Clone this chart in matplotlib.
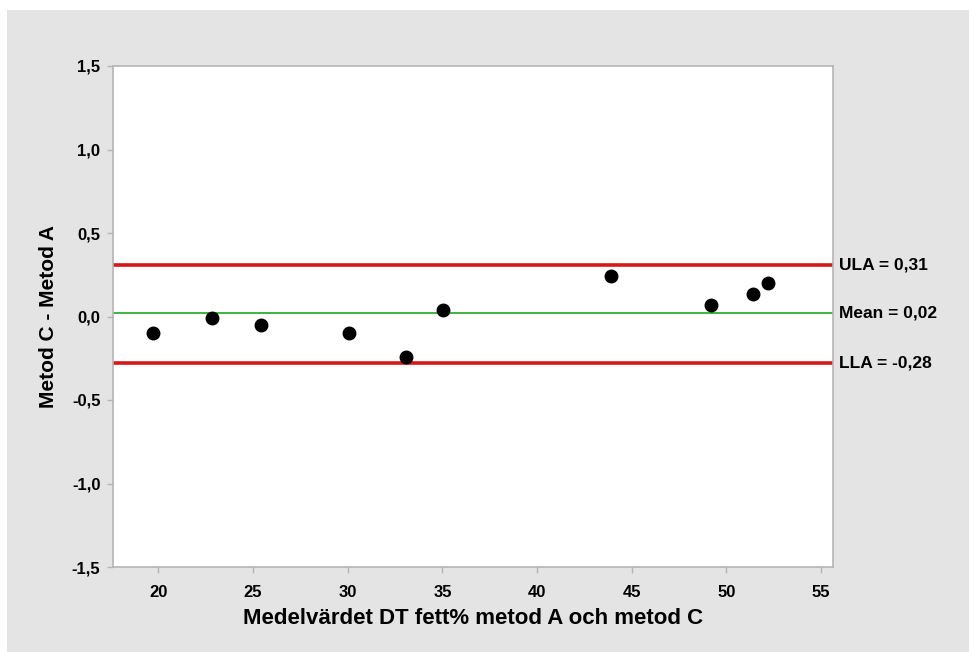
import matplotlib.pyplot as plt
import numpy as np
from matplotlib.patches import Rectangle
from matplotlib.ticker import FuncFormatter

# Bland-Altman data: mean of the two methods vs. difference (C - A)
medel = [19.70, 22.84, 25.42, 30.08, 33.09, 35.01, 43.92, 49.18, 51.43, 52.22]
diff = [-0.10, -0.006, -0.05, -0.10, -0.245, 0.038, 0.245, 0.07, 0.133, 0.20]

ula = 0.31
mean_diff = 0.02
lla = -0.28

x_ticks = [20, 25, 30, 35, 40, 45, 50, 55]
y_ticks = [-1.5, -1.0, -0.5, 0.0, 0.5, 1.0, 1.5]

plt.rcParams["font.family"] = ["Liberation Sans", "DejaVu Sans"]


def comma(v, pos=None):
    return f"{v:.1f}".replace(".", ",")


fig = plt.figure(figsize=(9.7, 6.52), dpi=100, facecolor="white")
# gray panel behind the plot (drawn below the axes)
fig.add_artist(Rectangle((7 / 970, 0), 1, 1 - 10 / 652, transform=fig.transFigure,
                         facecolor="#e4e4e4", edgecolor="none", zorder=-10))

ax = fig.add_axes([113 / 970, 1 - 567 / 652, 720 / 970, 501 / 652])
ax.set_facecolor("white")

ax.axhline(ula, color="#d81818", lw=2.6, zorder=2)
ax.axhline(mean_diff, color="#3cb43c", lw=1.4, zorder=2)
ax.axhline(lla, color="#d81818", lw=2.6, zorder=2)
ax.plot(medel, diff, "o", color="black", markersize=9, zorder=3)

ax.set_xlim(17.6, 55.63)
ax.set_ylim(-1.5, 1.5)
ax.set_xticks(x_ticks)
ax.set_yticks(y_ticks)
ax.yaxis.set_major_formatter(FuncFormatter(comma))

for s in ax.spines.values():
    s.set_color("#b4b4b4")
    s.set_linewidth(1.2)
ax.tick_params(direction="out", length=4, width=1, color="#b4b4b4",
               labelsize=12, pad=5)
ax.tick_params(axis="x", pad=9)
for lbl in ax.get_xticklabels() + ax.get_yticklabels():
    lbl.set_fontweight("bold")

trans = ax.get_yaxis_transform()
for val, txt in [(ula, "ULA = 0,31"), (mean_diff, "Mean = 0,02"), (lla, "LLA = -0,28")]:
    ax.text(1.009, val, txt, transform=trans, ha="left", va="center",
            fontsize=12.5, fontweight="bold", clip_on=False)

ax.set_xlabel("Medelvärdet DT fett% metod A och metod C", fontsize=16,
              fontweight="bold", labelpad=6)
ax.set_ylabel("Metod C - Metod A", fontsize=15, fontweight="bold", labelpad=10)

fig.savefig("out.png", dpi=100, facecolor=fig.get_facecolor())
